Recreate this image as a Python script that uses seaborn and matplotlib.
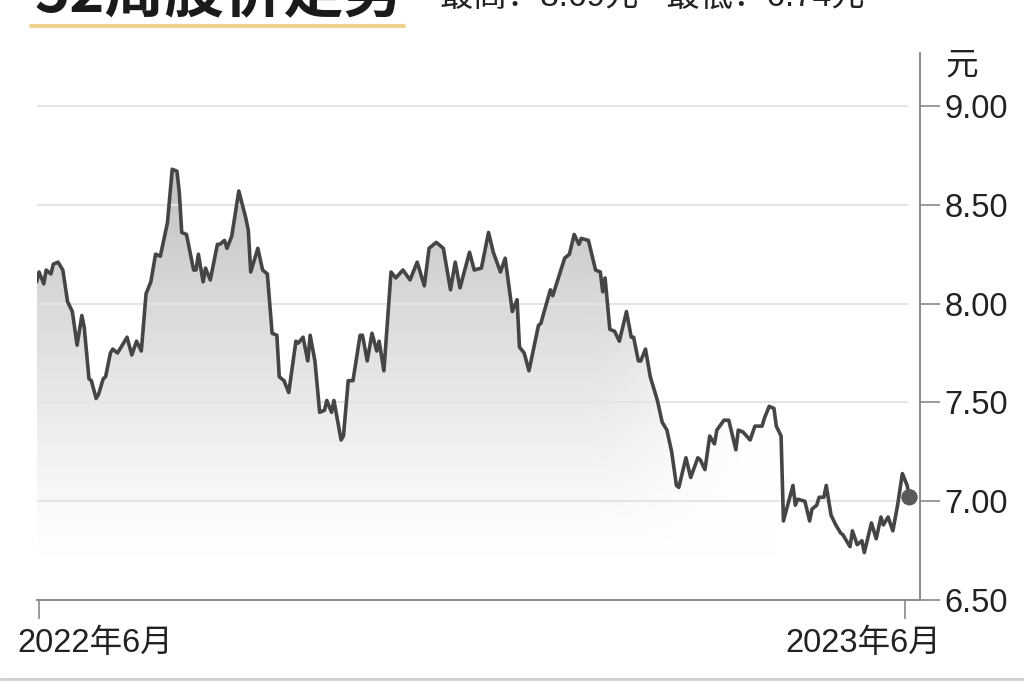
import numpy as np
import pandas as pd
import matplotlib
matplotlib.use("Agg")
import matplotlib.pyplot as plt
import matplotlib.dates as mdates
import matplotlib.transforms as mtransforms
from matplotlib.lines import Line2D
import seaborn as sns

# 52-week share price (days since start, price in yuan)
start = pd.Timestamp("2022-06-15")
days = [0, 1, 3, 4, 6, 7, 9, 11, 13, 15, 17, 19, 20, 22, 23, 25, 26, 28, 29, 31,
        32, 34, 38, 40, 42, 44, 46, 48, 50, 52, 55, 57, 59, 60, 61, 63, 66, 67, 68, 70,
        71, 73, 76, 77, 79, 80, 82, 85, 88, 89, 90, 93, 95, 97, 99, 101, 102, 104, 106, 109,
        110, 112, 114, 115, 117, 119, 121, 122, 124, 125, 128, 129, 131, 133, 136, 137, 139, 141, 143, 144,
        146, 149, 151, 154, 157, 160, 163, 165, 168, 171, 174, 176, 178, 182, 184, 187, 190, 192, 195, 197,
        200, 202, 203, 205, 207, 211, 212, 216, 217, 222, 224, 226, 228, 229, 232, 235, 237, 238, 239, 241,
        243, 245, 248, 250, 251, 253, 254, 256, 258, 261, 263, 265, 267, 269, 270, 273, 275, 278, 279, 281,
        283, 285, 286, 289, 291, 294, 295, 297, 300, 302, 305, 306, 308, 310, 311, 313, 314, 318, 319, 320,
        323, 325, 326, 328, 329, 331, 332, 334, 336, 338, 339, 342, 343, 345, 347, 348, 351, 353, 355, 356,
        358, 360, 362, 364, 366, 367]
price = [8.11, 8.16, 8.10, 8.17, 8.15, 8.20, 8.21, 8.17, 8.01, 7.96, 7.79, 7.94, 7.88, 7.62, 7.61, 7.52, 7.54, 7.62, 7.63, 7.75,
         7.77, 7.75, 7.83, 7.74, 7.81, 7.76, 8.05, 8.11, 8.25, 8.24, 8.41, 8.68, 8.67, 8.56, 8.36, 8.35, 8.17, 8.17, 8.25, 8.11,
         8.18, 8.12, 8.30, 8.30, 8.32, 8.28, 8.34, 8.57, 8.43, 8.37, 8.16, 8.28, 8.17, 8.15, 7.85, 7.84, 7.63, 7.61, 7.55, 7.81,
         7.80, 7.83, 7.71, 7.84, 7.71, 7.45, 7.46, 7.51, 7.45, 7.51, 7.31, 7.33, 7.61, 7.61, 7.84, 7.84, 7.71, 7.85, 7.76, 7.81,
         7.66, 8.16, 8.13, 8.17, 8.12, 8.21, 8.09, 8.28, 8.31, 8.28, 8.07, 8.21, 8.08, 8.26, 8.17, 8.18, 8.36, 8.26, 8.16, 8.23,
         7.96, 8.02, 7.78, 7.75, 7.66, 7.89, 7.90, 8.07, 8.04, 8.23, 8.25, 8.35, 8.30, 8.33, 8.32, 8.17, 8.16, 8.06, 8.13, 7.87,
         7.86, 7.81, 7.96, 7.83, 7.83, 7.71, 7.71, 7.77, 7.63, 7.51, 7.40, 7.36, 7.25, 7.08, 7.07, 7.22, 7.12, 7.22, 7.21, 7.16,
         7.33, 7.29, 7.36, 7.41, 7.41, 7.26, 7.36, 7.35, 7.31, 7.38, 7.38, 7.42, 7.48, 7.47, 7.38, 7.33, 6.90, 7.08, 6.98, 7.01,
         7.00, 6.90, 6.96, 6.98, 7.02, 7.02, 7.08, 6.93, 6.88, 6.84, 6.83, 6.77, 6.85, 6.78, 6.80, 6.74, 6.89, 6.81, 6.92, 6.88,
         6.92, 6.85, 6.98, 7.14, 7.08, 7.02]

ytick_vals = [6.5, 7.0, 7.5, 8.0, 8.5, 9.0]
ytick_labels = ["6.50", "7.00", "7.50", "8.00", "8.50", "9.00"]
xtick_dates = ["2022-06-16", "2023-06-15"]
xtick_labels = ["2022年6月", "2023年6月"]
title = "52周股价走势"
subtitle = "最高：8.69元   最低：6.74元"
unit = "元"

df = pd.DataFrame({"date": start + pd.to_timedelta(days, unit="D"), "price": price})

sns.set_theme(style="white")
plt.rcParams["font.family"] = ["Liberation Sans", "Noto Sans CJK SC", "DejaVu Sans"]

fig = plt.figure(figsize=(10.24, 6.82), dpi=100)
ax = fig.add_axes([0.0358, 0.1202, 0.8626, 0.802])

sns.lineplot(data=df, x="date", y="price", color="#454545", lw=2.6, ax=ax, zorder=3)
sns.scatterplot(data=df.tail(1), x="date", y="price", s=140, color="#5a5a5a",
                edgecolor="none", ax=ax, zorder=4)

# grey gradient under the line, fading downwards and to the right
x0 = mdates.date2num(df["date"].iloc[0])
x1 = mdates.date2num(df["date"].iloc[-1])
yy = np.linspace(6.5, 9.27, 300)
xx = np.linspace(0, days[-1], 400)
shade = 0.24 * np.clip((yy - 6.72) / 1.95, 0, 1) ** 1.15
t = np.clip((xx - 230) / 80, 0, 1)
fade = 1 - t * t * (3 - 2 * t)
grad = 1 - shade[:, None] * fade[None, :]
img = np.dstack([grad, grad, grad])
im = ax.imshow(img, extent=[x0, x1, 6.5, 9.27], origin="lower", aspect="auto",
               zorder=1, interpolation="bilinear")
poly = ax.fill_between(df["date"], df["price"], 6.5, facecolor="none", edgecolor="none")
im.set_clip_path(poly.get_paths()[0], ax.transData)

for v in ytick_vals[1:]:
    ax.axhline(v, xmin=0, xmax=0.985, color="#e4e4e4", lw=1.5, zorder=2)

ax.set_xlim(start, start + pd.Timedelta(days=371.4))
ax.set_ylim(6.5, 9.268)
ax.set_xlabel("")
ax.set_ylabel("")

for side in ["left", "top"]:
    ax.spines[side].set_visible(False)
for side in ["bottom", "right"]:
    ax.spines[side].set_color("#8a8a8a")
    ax.spines[side].set_linewidth(1.4)

ax.yaxis.tick_right()
ax.set_yticks(ytick_vals)
ax.set_yticklabels(ytick_labels)
ax.tick_params(axis="y", right=True, labelright=True, left=False, labelleft=False,
               direction="out", length=14.4, width=1.2, color="#8a8a8a", pad=3,
               labelsize=23.5, labelcolor="#222222")

ax.set_xticks(pd.to_datetime(xtick_dates))
ax.set_xticklabels(xtick_labels)
ax.tick_params(axis="x", bottom=True, direction="out", length=14, width=1.2,
               color="#8a8a8a", pad=6, labelsize=23.5, labelcolor="#222222")
for lbl, ha, dx in zip(ax.get_xticklabels(), ["left", "right"], [-22, 36]):
    lbl.set_ha(ha)
    lbl.set_transform(lbl.get_transform() + mtransforms.ScaledTranslation(dx / 100, 0, fig.dpi_scale_trans))

fig.text(945 / 1024, 1 - 66 / 682, unit, fontsize=23.5, ha="left", va="center", color="#222222")

# header, cut off by the top edge as in the source image
fig.text(34 / 1024, 1 - 11 / 682, title, fontsize=43, fontweight="black",
         family=["Noto Sans CJK SC", "DejaVu Sans"], ha="left", va="baseline", color="#1a1a1a")
fig.add_artist(Line2D([31 / 1024, 404 / 1024], [1 - 26 / 682] * 2, color="#efd28e", lw=3))
fig.text(440 / 1024, 1 - 7 / 682, subtitle, fontsize=24, ha="left", va="baseline", color="#222222")
fig.add_artist(Line2D([0, 1], [1 - 679 / 682] * 2, color="#cfcfcf", lw=2))

fig.savefig("out.png", dpi=100, facecolor="white")
